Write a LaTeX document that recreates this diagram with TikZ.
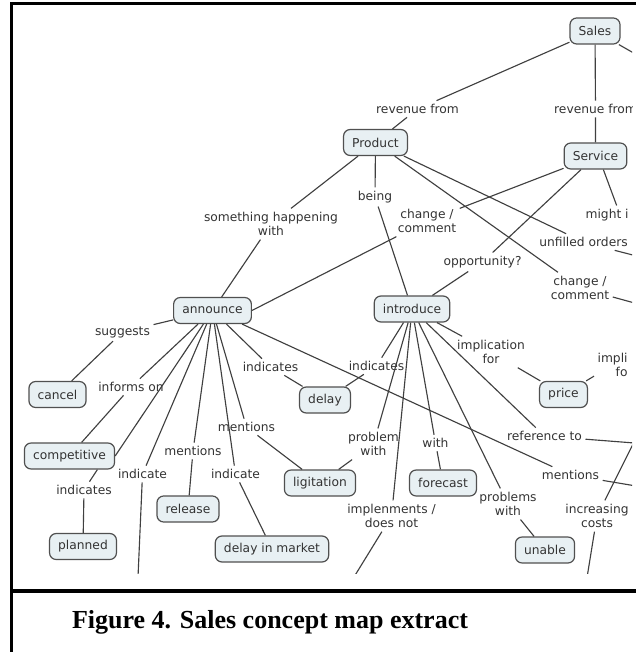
\documentclass[tikz,border=0pt]{standalone}
\usepackage{fontspec}
\usepackage{xcolor}
\usepackage{tikz}
\usetikzlibrary{calc}
\newfontfamily\mapfont{DejaVu Sans}
\newfontfamily\capfont{Liberation Serif}
\definecolor{conceptfill}{HTML}{E8F0F3}
\definecolor{conceptline}{HTML}{505050}
\colorlet{linkline}{black!75}
\colorlet{maptext}{black!80}

\begin{document}
\begin{tikzpicture}[x=0.75pt,y=-0.75pt,
  concept/.style={draw=conceptline,fill=conceptfill,line width=0.9pt,rounded corners=5pt,
    inner xsep=6.5pt,minimum height=19.5pt,text=maptext,font=\mapfont\fontsize{9.2}{11}\selectfont},
  link/.style={inner sep=2.5pt,align=center,text=maptext,font=\mapfont\fontsize{9.2}{11}\selectfont},
  conn/.style={draw=linkline,line width=0.85pt}]
\useasboundingbox (0,0) rectangle (635,652);
% map extract, cut off at the right and at the bottom
\begin{scope}
\clip (12,5) rectangle (632,573);
% concepts
\node[concept] (sales) at (595,31) {Sales};
\node[concept] (prod) at (375.5,142.5) {Product};
\node[concept] (svc) at (595.5,156) {Service};
\node[concept] (ann) at (212.5,310.5) {announce};
\node[concept] (intro) at (412,309) {introduce};
\node[concept] (cancel) at (57.5,394.5) {cancel};
\node[concept] (comp) at (69.5,456) {competitive};
\node[concept] (planned) at (83,546.5) {planned};
\node[concept] (release) at (188,509) {release};
\node[concept] (dim) at (272,549) {delay in market};
\node[concept] (delay) at (325,400) {delay};
\node[concept] (lig) at (320,483) {ligitation};
\node[concept] (fcast) at (443,483) {forecast};
\node[concept] (price) at (563.5,394.5) {price};
\node[concept] (unable) at (545,550) {unable};
% linking phrases
\node[link] (revP) at (417.5,109) {revenue from};
\node[link] (revS) at (595.5,109) {revenue from};
\node[link] (some) at (271,224) {something happening\\with};
\node[link] (being) at (375,197) {being};
\node[link] (chgA) at (427,221) {change /\\comment};
\node[link] (opp) at (482.5,262) {opportunity?};
\node[link,anchor=west] (might) at (582,215) {might i};
\node[link] (unf) at (583.5,242) {unfilled orders};
\node[link] (chgB) at (580,288) {change /\\comment};
\node[link] (impA) at (491,352) {implication\\for};
\node[link,align=right,anchor=west] (impB) at (594,365) {impli\\fo};
\node[link] (indI) at (376.5,366) {indicates};
\node[link] (refto) at (544.5,436) {reference to};
\node[link] (menR) at (570.5,475) {mentions};
\node[link] (incr) at (597,516) {increasing\\costs};
\node[link] (probs) at (508,504) {problems\\with};
\node[link] (impl) at (391.5,516) {implenments /\\does not};
\node[link] (withF) at (435.5,443) {with};
\node[link] (probW) at (373.5,444) {problem\\with};
\node[link] (sugg) at (122.5,332) {suggests};
\node[link] (indA) at (270.5,367) {indicates};
\node[link] (informs) at (131,387) {informs on};
\node[link] (menL) at (246.5,427) {mentions};
\node[link] (menM) at (193,451) {mentions};
\node[link] (indL) at (142.5,474) {indicate};
\node[link] (indM) at (235.5,474) {indicate};
\node[link] (indC) at (84,490) {indicates};
% loose ends running out of the extract
\coordinate (salesR) at (660,68);
\coordinate (unfR) at (660,262);
\coordinate (chgR) at (660,310);
\coordinate (refR) at (660,445);
\coordinate (menRR) at (660,490);
\coordinate (incTop) at (645,420);
\coordinate (incBot) at (585,590);
\coordinate (implBot) at (346,590);
\coordinate (indBot) at (137,600);
% Sales, Product, Service
\draw[conn] (sales) -- (revP) (revP) -- (prod);
\draw[conn] (sales) -- (revS) (revS) -- (svc);
\draw[conn] (sales) -- (salesR);
\draw[conn] (prod) -- (some) (some) -- (ann);
\draw[conn] (prod) -- (being) (being) -- (intro);
\draw[conn] (prod) -- (unf) (unf.-15) -- (unfR);
\draw[conn] (prod) -- (chgB) (chgB) -- (chgR);
\draw[conn] (svc) -- (chgA) (chgA) -- (ann.east);
\draw[conn] (svc) -- (opp) (opp) -- (intro);
\draw[conn] (svc.-60) -- (might.45);
% announce
\draw[conn] (ann) -- (sugg) (sugg) -- (cancel);
\draw[conn] (ann) -- (informs) (informs) -- (comp);
\draw[conn] (ann) -- (comp.east);
\draw[conn] (comp.-26) -- (indC) (indC) -- (planned);
\draw[conn] (ann) -- (indL) (indL) -- (indBot);
\draw[conn] (ann) -- (menM) (menM) -- (release);
\draw[conn] (ann) -- (indM) (indM) -- (dim);
\draw[conn] (ann) -- (menL) (menL) -- (lig);
\draw[conn] (ann) -- (indA) (indA) -- (delay);
\draw[conn] (ann) -- (menR) (menR) -- (menRR);
% introduce
\draw[conn] (intro) -- (indI) (indI) -- (delay);
\draw[conn] (intro) -- (probW) (probW) -- (lig);
\draw[conn] (intro) -- (impl) (impl) -- (implBot);
\draw[conn] (intro) -- (withF) (withF) -- (fcast);
\draw[conn] (intro) -- (probs) (probs) -- (unable);
\draw[conn] (intro) -- (refto) (refto) -- (refR);
\draw[conn] (intro) -- (impA) (impA) -- (price);
\draw[conn] (price) -- (impB);
\draw[conn] (incTop) -- (incr) (incr) -- (incBot);
\end{scope}
% frame and caption
\draw[line width=2.3pt] (640,3.3) -- (11.3,3.3) -- (11.3,660);
\draw[line width=2.3pt] (11.3,591) -- (640,591);
\node[font=\capfont\bfseries\fontsize{19.5}{22}\selectfont] (cap) at (270,622.5) {Figure 4. Sales concept map extract};
\end{tikzpicture}
\end{document}
